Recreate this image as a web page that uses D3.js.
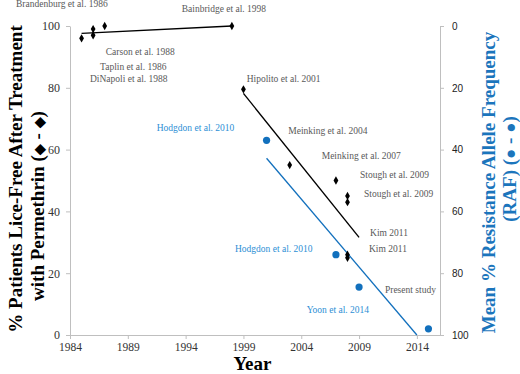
<!DOCTYPE html>
<html><head><meta charset="utf-8">
<script src="https://cdn.jsdelivr.net/npm/d3@7"></script>
<style>body{margin:0;background:#fff}svg{display:block}</style>
</head><body>
<svg id="c" width="520" height="374"></svg>
<script>
// ---- data ----
const xTicks = [1984, 1989, 1994, 1999, 2004, 2009, 2014];
const leftTicks = [0, 20, 40, 60, 80, 100];
const rightTicks = [0, 20, 40, 60, 80, 100];

const liceYears = [1985, 1986, 1986, 1987, 1998, 1999, 2003, 2007, 2008, 2008, 2008, 2008];
const liceFree  = [96, 99, 97, 100, 100, 79.5, 55, 50, 45, 43, 26, 25];

const rafYears  = [2001, 2007, 2009, 2015];
const rafValues = [37, 74, 84.5, 98];

const trendEarlyYears = [1985, 1998];
const trendEarly      = [97.6, 100];
const trendLateYears  = [1999, 2009];
const trendLate       = [78.2, 31.6];
const rafTrendYears   = [2001, 2014];
const rafTrend        = [42.8, 100];

const grayLabels = ["Brandenburg et al. 1986","Bainbridge et al. 1998","Carson et al. 1988","Taplin et al. 1986",
  "DiNapoli et al. 1988","Hipolito et al. 2001","Meinking et al. 2004","Meinking et al. 2007",
  "Stough et al. 2009","Stough et al. 2009","Kim 2011","Kim 2011","Present study"];
const grayLabelYears = [1979.33, 1993.66, 1987.09, 1986.6, 1985.73, 1999.28, 2002.88, 2005.77, 2009.08, 2009.43, 2009.95, 2009.86, 2011.24];
const grayLabelPct   = [106.15, 104.5, 90.6, 85.8, 81.9, 81.9, 65.0, 57.0, 50.8, 44.7, 32.0, 26.9, 13.6];

const blueLabels = ["Hodgdon et al. 2010","Hodgdon et al. 2010","Yoon et al. 2014"];
const blueLabelYears = [1991.5, 1998.27, 2004.47];
const blueLabelPct   = [66.0, 26.7, 7.1];

// ---- chart ----
const svg = d3.select("#c");
const x = d3.scaleLinear().domain([1984, 2016]).range([70, 440]);
const yL = d3.scaleLinear().domain([0, 100]).range([335, 26]);
const yR = d3.scaleLinear().domain([0, 100]).range([26, 335]);

const axisColor = "#bfbfbf";
const blueDark = "#1270bd";
const blueText = "#2d8fd5";
const serif = "'Liberation Serif', 'Times New Roman', serif";

function styleAxis(g) {
  g.selectAll("path,line").attr("stroke", axisColor).attr("stroke-width", 1);
}

svg.append("g").attr("transform", "translate(0,335)")
  .call(d3.axisBottom(x).tickValues(xTicks).tickFormat(d3.format("d")).tickSize(4).tickSizeOuter(0).tickPadding(4))
  .call(styleAxis)
  .call(g => g.selectAll("text").style("font-family", serif).attr("font-size", 11.5).attr("fill", "#333"));

svg.append("g").attr("transform", "translate(70,0)")
  .call(d3.axisLeft(yL).tickValues(leftTicks).tickSize(4).tickSizeOuter(0).tickPadding(6))
  .call(styleAxis)
  .call(g => g.selectAll("text").style("font-family", serif).attr("font-size", 12).attr("fill", "#333"));

svg.append("g").attr("transform", "translate(440,0)")
  .call(d3.axisRight(yR).tickValues(rightTicks).tickSize(4).tickSizeOuter(0).tickPadding(8))
  .call(styleAxis)
  .call(g => g.selectAll("text").style("font-family", "'Liberation Sans', Arial, sans-serif").attr("font-size", 10).attr("fill", "#222"));

// trend lines
const line = d3.line();
svg.append("path").attr("d", line(trendEarlyYears.map((d, i) => [x(d), yL(trendEarly[i])])))
  .attr("stroke", "#000").attr("stroke-width", 1.4).attr("fill", "none");
svg.append("path").attr("d", line(trendLateYears.map((d, i) => [x(d), yL(trendLate[i])])))
  .attr("stroke", "#000").attr("stroke-width", 1.4).attr("fill", "none");
svg.append("path").attr("d", line(rafTrendYears.map((d, i) => [x(d), yR(rafTrend[i])])))
  .attr("stroke", blueDark).attr("stroke-width", 1.3).attr("fill", "none");

// diamonds
const diamond = d3.symbol().type(d3.symbolDiamond).size(20);
svg.append("g").selectAll("path").data(liceYears).join("path")
  .attr("d", diamond)
  .attr("transform", (d, i) => `translate(${x(d)},${yL(liceFree[i])})`)
  .attr("fill", "#000");

// circles
svg.append("g").selectAll("circle").data(rafYears).join("circle")
  .attr("cx", d => x(d)).attr("cy", (d, i) => yR(rafValues[i])).attr("r", 3.6)
  .attr("fill", blueDark);

// annotations
svg.append("g").selectAll("text").data(grayLabels).join("text")
  .attr("x", (d, i) => x(grayLabelYears[i])).attr("y", (d, i) => yL(grayLabelPct[i]))
  .style("font-family", serif).attr("font-size", 9.5).attr("fill", "#595959").text(d => d);
svg.append("g").selectAll("text").data(blueLabels).join("text")
  .attr("x", (d, i) => x(blueLabelYears[i])).attr("y", (d, i) => yL(blueLabelPct[i]))
  .style("font-family", serif).attr("font-size", 9.5).attr("fill", blueText).text(d => d);

// titles
function vtitle(cx, cy, parts, color) {
  const t = svg.append("text").attr("transform", `translate(${cx},${cy}) rotate(-90)`)
    .attr("text-anchor", "middle").attr("dy", "0.35em")
    .style("font-family", serif).attr("font-weight", "bold").attr("font-size", 19)
    .attr("fill", color);
  parts.forEach(p => {
    const s = t.append("tspan").text(p.t);
    if (p.small) s.attr("font-size", p.small);
  });
}
vtitle(15, 179, [{t: "% Patients Lice-Free After Treatment"}], "#000");
vtitle(37, 206, [{t: "with Permethrin ("}, {t: "\u25C6", small: 14}, {t: " - "}, {t: "\u25C6", small: 14}, {t: ")"}], "#000");
vtitle(488, 182.5, [{t: "Mean % Resistance Allele Frequency"}], "#1b75bc");
vtitle(509, 169, [{t: "(RAF) ("}, {t: "\u25CF", small: 17}, {t: " - "}, {t: "\u25CF", small: 17}, {t: ")"}], "#1b75bc");

svg.append("text").attr("x", 252.5).attr("y", 370).attr("text-anchor", "middle")
  .style("font-family", serif).attr("font-weight", "bold").attr("font-size", 19).attr("fill", "#000").text("Year");
</script>
</body></html>
